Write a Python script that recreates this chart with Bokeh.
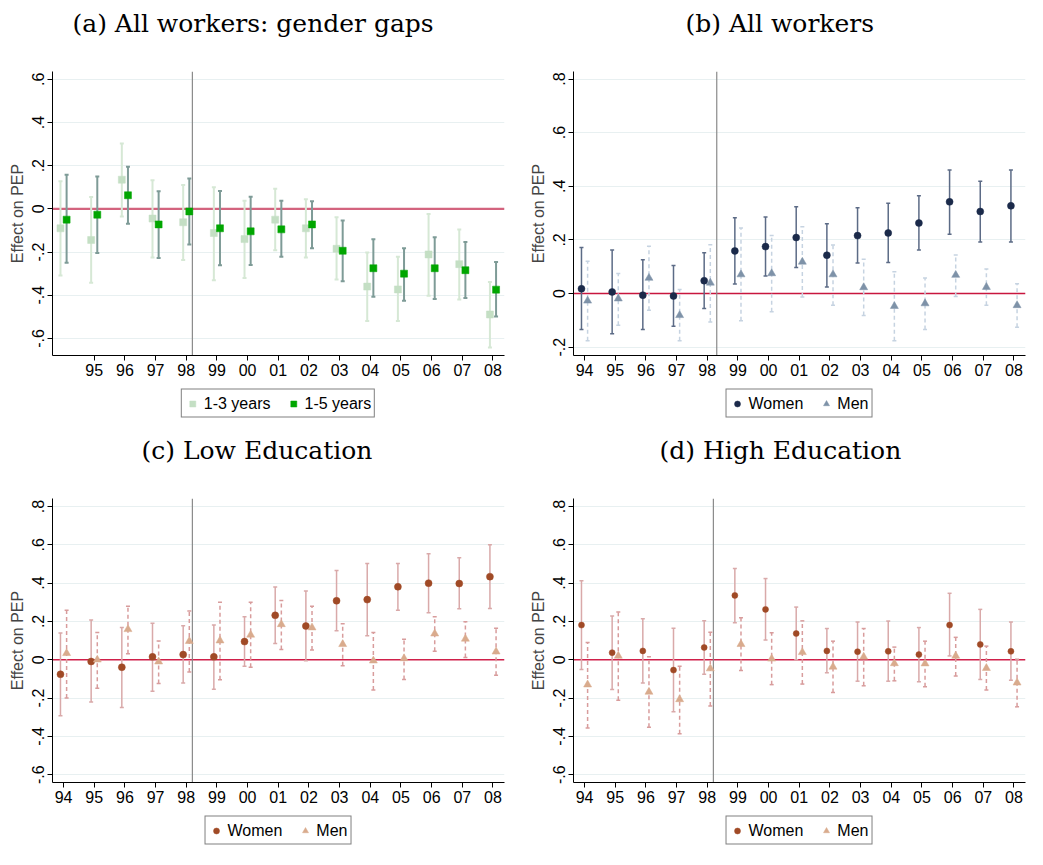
import numpy as np
from bokeh.plotting import figure
from bokeh.models import ColumnDataSource, Span, FixedTicker, Legend, LegendItem, Range1d, Spacer
from bokeh.transform import dodge
from bokeh.layouts import column, row
from bokeh.embed import file_html
from bokeh.resources import INLINE

# ---------------- data ----------------
years = [1994, 1995, 1996, 1997, 1998, 1999, 2000, 2001, 2002, 2003, 2004, 2005, 2006, 2007, 2008]
year_labels = ["94", "95", "96", "97", "98", "99", "00", "01", "02", "03", "04", "05", "06", "07", "08"]

# (a) All workers: gender gaps
a13_est = [-0.090, -0.144, 0.135, -0.045, -0.062, -0.112, -0.140, -0.050, -0.090, -0.185, -0.360, -0.373, -0.211, -0.256, -0.489]
a13_lo = [-0.309, -0.342, -0.035, -0.225, -0.237, -0.331, -0.320, -0.192, -0.225, -0.327, -0.519, -0.519, -0.402, -0.420, -0.642]
a13_hi = [0.128, 0.055, 0.303, 0.132, 0.111, 0.100, 0.038, 0.093, 0.044, -0.039, -0.202, -0.222, -0.024, -0.096, -0.339]
a15_est = [-0.050, -0.027, 0.063, -0.072, -0.012, -0.090, -0.104, -0.095, -0.072, -0.194, -0.275, -0.300, -0.275, -0.284, -0.374]
a15_lo = [-0.249, -0.204, -0.069, -0.228, -0.165, -0.261, -0.260, -0.222, -0.182, -0.335, -0.407, -0.425, -0.417, -0.413, -0.498]
a15_hi = [0.158, 0.150, 0.195, 0.081, 0.141, 0.083, 0.056, 0.038, 0.035, -0.054, -0.141, -0.182, -0.132, -0.153, -0.246]

# (b) All workers
bw_est = [0.018, 0.006, -0.006, -0.009, 0.048, 0.159, 0.175, 0.209, 0.143, 0.216, 0.226, 0.263, 0.342, 0.306, 0.327]
bw_lo = [-0.134, -0.150, -0.134, -0.122, -0.056, 0.036, 0.065, 0.097, 0.024, 0.114, 0.116, 0.162, 0.221, 0.192, 0.192]
bw_hi = [0.172, 0.162, 0.126, 0.105, 0.152, 0.283, 0.285, 0.324, 0.260, 0.320, 0.337, 0.365, 0.461, 0.419, 0.461]
bm_est = [-0.027, -0.019, 0.058, -0.081, 0.040, 0.071, 0.075, 0.118, 0.071, 0.023, -0.047, -0.037, 0.069, 0.024, -0.044]
bm_lo = [-0.176, -0.118, -0.062, -0.176, -0.106, -0.101, -0.068, -0.013, -0.044, -0.082, -0.176, -0.134, -0.011, -0.044, -0.126]
bm_hi = [0.120, 0.075, 0.176, 0.015, 0.182, 0.244, 0.216, 0.249, 0.181, 0.128, 0.081, 0.058, 0.144, 0.092, 0.037]

# (c) Low Education
cw_est = [-0.076, -0.009, -0.039, 0.015, 0.027, 0.015, 0.095, 0.232, 0.176, 0.308, 0.314, 0.381, 0.400, 0.398, 0.434]
cw_lo = [-0.293, -0.220, -0.249, -0.164, -0.122, -0.154, -0.034, 0.085, -0.005, 0.151, 0.125, 0.259, 0.246, 0.266, 0.268]
cw_hi = [0.140, 0.208, 0.168, 0.190, 0.178, 0.181, 0.224, 0.380, 0.359, 0.466, 0.503, 0.503, 0.554, 0.532, 0.600]
cm_est = [0.034, 0.000, 0.159, -0.010, 0.097, 0.100, 0.130, 0.185, 0.168, 0.081, -0.005, 0.007, 0.136, 0.109, 0.042]
cm_lo = [-0.200, -0.149, 0.031, -0.124, -0.064, -0.105, -0.039, 0.054, 0.051, -0.031, -0.158, -0.103, 0.044, 0.012, -0.081]
cm_hi = [0.258, 0.142, 0.280, 0.098, 0.254, 0.300, 0.300, 0.310, 0.280, 0.188, 0.142, 0.107, 0.224, 0.198, 0.164]

# (d) High Education
dw_est = [0.181, 0.037, 0.046, -0.054, 0.064, 0.336, 0.263, 0.137, 0.046, 0.042, 0.044, 0.027, 0.181, 0.080, 0.044]
dw_lo = [-0.051, -0.156, -0.122, -0.271, -0.076, 0.193, 0.103, 0.000, -0.068, -0.112, -0.112, -0.115, 0.020, -0.103, -0.107]
dw_hi = [0.412, 0.229, 0.214, 0.164, 0.203, 0.476, 0.424, 0.275, 0.163, 0.197, 0.202, 0.168, 0.347, 0.263, 0.197]
dm_est = [-0.130, 0.020, -0.168, -0.207, -0.046, 0.081, 0.005, 0.039, -0.037, 0.015, -0.019, -0.020, 0.020, -0.044, -0.120]
dm_lo = [-0.356, -0.212, -0.352, -0.386, -0.241, -0.056, -0.130, -0.127, -0.171, -0.136, -0.110, -0.141, -0.085, -0.158, -0.246]
dm_hi = [0.090, 0.249, 0.015, -0.034, 0.144, 0.219, 0.141, 0.203, 0.097, 0.163, 0.066, 0.097, 0.117, 0.071, 0.003]

yticks_a = [-0.6, -0.4, -0.2, 0.0, 0.2, 0.4, 0.6]
ylabels_a = ["-.6", "-.4", "-.2", "0", ".2", ".4", ".6"]
yticks_b = [-0.2, 0.0, 0.2, 0.4, 0.6, 0.8]
ylabels_b = ["-.2", "0", ".2", ".4", ".6", ".8"]
yticks_cd = [-0.6, -0.4, -0.2, 0.0, 0.2, 0.4, 0.6, 0.8]
ylabels_cd = ["-.6", "-.4", "-.2", "0", ".2", ".4", ".6", ".8"]

SANS = "Liberation Sans"
SERIF = "DejaVu Serif"
FRAME_W = 452
FRAME_H = 284


def add_series(p, est, lo, hi, shift, marker, msize, mcolor, ci_color, ci_width, ci_dash):
    src = ColumnDataSource(dict(year=years, est=est, lo=lo, hi=hi))
    xs = dodge("year", shift)
    p.segment(x0=xs, y0="lo", x1=xs, y1="hi", source=src, line_color=ci_color,
              line_width=ci_width, line_dash=ci_dash)
    p.scatter(x=xs, y="lo", source=src, marker="dash", size=4, line_color=ci_color, line_width=ci_width)
    p.scatter(x=xs, y="hi", source=src, marker="dash", size=4, line_color=ci_color, line_width=ci_width)
    p.scatter(x=xs, y="est", source=src, marker=marker, size=msize, fill_color=mcolor,
              line_color=mcolor, line_width=0.5)


def title_fig(text, bl, br, offset):
    t = figure(frame_width=FRAME_W, height=45, x_range=Range1d(0, 1), y_range=Range1d(0, 1),
               x_axis_type=None, y_axis_type=None, toolbar_location=None, output_backend="svg",
               min_border_left=bl, min_border_right=br, min_border_top=0, min_border_bottom=0)
    t.outline_line_color = None
    t.background_fill_color = "white"
    t.border_fill_color = "white"
    t.title.text = text
    t.title.align = "left"
    t.title.offset = offset
    t.title.standoff = 12
    t.title.text_font = SERIF
    t.title.text_font_size = "25px"
    t.title.text_font_style = "normal"
    t.title.text_color = "black"
    return t


def legend_fig(bl, br, series, labels):
    lf = figure(frame_width=FRAME_W, height=36, x_range=Range1d(0, 1), y_range=Range1d(0, 1),
                x_axis_type=None, y_axis_type=None, toolbar_location=None, output_backend="svg",
                min_border_left=bl, min_border_right=br, min_border_top=0, min_border_bottom=0)
    lf.outline_line_color = None
    lf.background_fill_color = "white"
    lf.border_fill_color = "white"
    rends = []
    for s in series:
        est, marker, mcolor = s[0], s[4], s[6]
        # legend swatch renderer: holds the series' first point, which lies outside this
        # legend strip's ranges, so only its legend glyph is visible
        rends.append(lf.scatter(x=years[:1], y=est[:1], marker=marker, fill_color=mcolor,
                                line_color=mcolor, line_width=0.5))
    leg = Legend(items=[LegendItem(label=l, renderers=[r]) for l, r in zip(labels, rends)],
                 orientation="horizontal", location="center", border_line_color="black",
                 border_line_width=1, label_text_font=SANS, label_text_font_size="16px",
                 label_text_color="black", glyph_width=15, glyph_height=18, label_height=21,
                 label_standoff=4, spacing=15, padding=3, margin=0,
                 background_fill_color="white")
    lf.add_layout(leg, "center")
    return lf


def make_panel(title, title_offset, bl, br, ymin, ymax, yticks, ylabels, xticks,
               vline, zero_color, zero_width, series, labels, gap):
    p = figure(frame_width=FRAME_W, frame_height=FRAME_H, x_range=Range1d(1993.64, 2008.375),
               y_range=Range1d(ymin, ymax), output_backend="svg", toolbar_location=None,
               min_border_left=bl, min_border_right=br, min_border_top=26, min_border_bottom=30)
    p.outline_line_color = None
    p.background_fill_color = "white"
    p.border_fill_color = "white"

    p.xgrid.visible = False
    p.ygrid.ticker = FixedTicker(ticks=yticks)
    p.ygrid.grid_line_color = "#E8F0F1"
    p.ygrid.grid_line_width = 1

    p.xaxis.ticker = FixedTicker(ticks=xticks)
    p.xaxis.major_label_overrides = {y: l for y, l in zip(years, year_labels)}
    p.yaxis.ticker = FixedTicker(ticks=yticks)
    p.yaxis.major_label_overrides = {v: l for v, l in zip(yticks, ylabels)}
    p.yaxis.major_label_orientation = "vertical"
    p.yaxis.axis_label = "Effect on PEP"
    p.yaxis.axis_label_text_font = SANS
    p.yaxis.axis_label_text_font_size = "16px"
    p.yaxis.axis_label_text_font_style = "normal"
    p.yaxis.axis_label_standoff = 4
    for ax in (p.xaxis, p.yaxis):
        ax.major_label_text_font = SANS
        ax.major_label_text_font_size = "16px"
        ax.major_label_text_color = "black"
        ax.axis_line_color = "black"
        ax.axis_line_width = 1
        ax.major_tick_line_color = "black"
        ax.major_tick_out = 5
        ax.major_tick_in = 0
        ax.minor_tick_line_color = None
        ax.major_label_standoff = 3

    p.add_layout(Span(location=0, dimension="width", line_color=zero_color,
                      line_width=zero_width, level="underlay"))
    p.add_layout(Span(location=vline, dimension="height", line_color="#8a8a8a",
                      line_width=1.2, level="underlay"))

    for s in series:
        add_series(p, *s)

    parts = [title_fig(title, bl, br, title_offset), p, legend_fig(bl, br, series, labels)]
    if gap:
        parts.append(Spacer(height=gap, width=bl + FRAME_W + br))
    return column(*parts, spacing=0)


pa = make_panel("(a) All workers: gender gaps", 20, 52, 8, -0.679, 0.636, yticks_a, ylabels_a,
                years[1:], 1998.2, "#D3637E", 2.2,
                [(a13_est, a13_lo, a13_hi, -0.1, "square", 7, "#C4DFC4", "#D6E8D5", 2, "solid"),
                 (a15_est, a15_lo, a15_hi, 0.1, "square", 7, "#00A600", "#7E9B97", 2, "solid")],
                ["1-3 years", "1-5 years"], 6)

pb = make_panel("(b) All workers", 112, 61, 2, -0.231, 0.828, yticks_b, ylabels_b,
                years, 1998.31, "#C8163E", 1.5,
                [(bw_est, bw_lo, bw_hi, -0.1, "circle", 7, "#1B2A4A", "#5C6B86", 1.5, "solid"),
                 (bm_est, bm_lo, bm_hi, 0.1, "triangle", 8, "#7E92A8", "#C6D3E1", 1.5, "4 3")],
                ["Women", "Men"], 6)

pc = make_panel("(c) Low Education", 89, 52, 8, -0.641, 0.842, yticks_cd, ylabels_cd,
                years, 1998.2, "#D0204A", 1.5,
                [(cw_est, cw_lo, cw_hi, -0.1, "circle", 7, "#A04A26", "#D9A9A9", 1.5, "solid"),
                 (cm_est, cm_lo, cm_hi, 0.1, "triangle", 8, "#D9AB8D", "#D89C9C", 1.5, "4 3")],
                ["Women", "Men"], 0)

pd_ = make_panel("(d) High Education", 86, 61, 2, -0.641, 0.842, yticks_cd, ylabels_cd,
                 years, 1998.2, "#D0204A", 1.5,
                 [(dw_est, dw_lo, dw_hi, -0.1, "circle", 6, "#A04A26", "#D9A9A9", 1.5, "solid"),
                  (dm_est, dm_lo, dm_hi, 0.1, "triangle", 8, "#D9AB8D", "#D89C9C", 1.5, "4 3")],
                 ["Women", "Men"], 0)

layout = column(row(pa, pb, spacing=0), row(pc, pd_, spacing=0), spacing=0)

open("out.html", "w").write(file_html(layout, INLINE))
